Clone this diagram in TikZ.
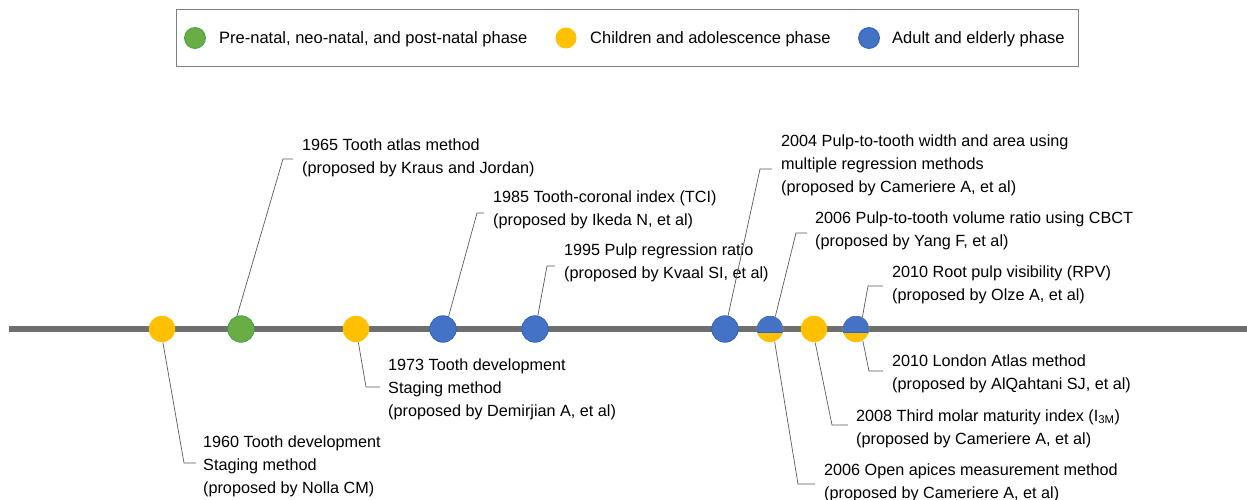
\documentclass[tikz,border=0pt]{standalone}
\usepackage{fontspec}
\setmainfont{Liberation Sans}
\definecolor{gr}{HTML}{6AAD45}
\definecolor{grd}{HTML}{3FA34D}
\definecolor{ye}{HTML}{FFC000}
\definecolor{bl}{HTML}{4472C4}
\definecolor{bld}{HTML}{2E62C0}
\definecolor{tl}{HTML}{6E6E6E}
\definecolor{cn}{HTML}{595959}
\definecolor{legb}{HTML}{7F7F7F}
\begin{document}
\begin{tikzpicture}[x=1pt,y=-1pt,
  tdot/.style={circle, minimum size=26.5pt, inner sep=0pt, line width=0.8pt},
  gdot/.style={tdot, fill=gr, draw=grd},
  ydot/.style={tdot, fill=ye},
  bdot/.style={tdot, fill=bl, draw=bld},
  hdot/.style={tdot, fill=ye, path picture={
      \fill[bl] ([yshift=-3.7pt]path picture bounding box.west) rectangle (path picture bounding box.north east);
      \draw[bld, line width=0.9pt] ([yshift=-3.7pt]path picture bounding box.west) -- ([yshift=-3.7pt]path picture bounding box.east);}},
  ldot/.style={circle, minimum size=21pt, inner sep=0pt, line width=0.8pt},
  lbl/.style={font=\fontsize{16.5}{23}\selectfont, align=left, inner sep=0pt, anchor=west, text=black},
  tlbl/.style={lbl, font=\fontsize{16.2}{23}\selectfont},
  conn/.style={draw=cn, line width=0.7pt}]
\useasboundingbox (0,0) rectangle (1247,500);

% legend
\node[draw=legb, line width=1pt, minimum width=902pt, minimum height=56.5pt, anchor=north west, inner sep=0pt] (legend) at (176,9.5) {};
\node[ldot, fill=gr, draw=grd] (lg) at (195,38) {};
\node[lbl] (lgt) at (219,39) {Pre-natal, neo-natal, and post-natal phase};
\node[ldot, fill=ye] (ly) at (566,38) {};
\node[lbl] (lyt) at (590,39) {Children and adolescence phase};
\node[ldot, fill=bl, draw=bld] (lb) at (869,38) {};
\node[lbl] (lbt) at (892,39) {Adult and elderly phase};

% timeline
\coordinate (tlstart) at (9,329);
\coordinate (tlend) at (1247,329);
\draw[tl, line width=6pt] (tlstart) -- (tlend);

% circles
\node[ydot] (c1) at (162,329) {};
\node[gdot] (c2) at (241,329) {};
\node[ydot] (c3) at (356,329) {};
\node[bdot] (c4) at (443,329) {};
\node[bdot] (c5) at (535,329) {};
\node[bdot] (c6) at (725,329) {};
\node[hdot] (c7) at (770,329) {};
\node[ydot] (c8) at (814,329) {};
\node[hdot] (c9) at (856,329) {};

% labels
\node[tlbl] (t1) at (203,466.5) {1960 Tooth development\\Staging method\\(proposed by Nolla CM)};
\node[tlbl] (t2) at (302,158) {1965 Tooth atlas method\\(proposed by Kraus and Jordan)};
\node[tlbl] (t3) at (388,389.5) {1973 Tooth development\\Staging method\\(proposed by Demirjian A, et al)};
\node[tlbl] (t4) at (493,210) {1985 Tooth-coronal index (TCI)\\(proposed by Ikeda N, et al)};
\node[tlbl] (t5) at (564,263) {1995 Pulp regression ratio\\(proposed by Kvaal SI, et al)};
\node[tlbl] (t6) at (781,165.5) {2004 Pulp-to-tooth width and area using\\multiple regression methods\\(proposed by Cameriere A, et al)};
\node[tlbl] (t7) at (815,231) {2006 Pulp-to-tooth volume ratio using CBCT\\(proposed by Yang F, et al)};
\node[tlbl] (t8) at (892,285) {2010 Root pulp visibility (RPV)\\(proposed by Olze A, et al)};
\node[tlbl] (t9) at (892,374) {2010 London Atlas method\\(proposed by AlQahtani SJ, et al)};
\node[tlbl] (t10) at (856,428.5) {2008 Third molar maturity index (I\textsubscript{3M})\\(proposed by Cameriere A, et al)};
\node[tlbl] (t11) at (824,483) {2006 Open apices measurement method\\(proposed by Cameriere A, et al)};

% connector knees and ends
\coordinate (k1) at (184,463);  \coordinate (e1) at (196,463);
\coordinate (k2) at (283,159);  \coordinate (e2) at (293,159);
\coordinate (k3) at (366,387);  \coordinate (e3) at (380,387);
\coordinate (k4) at (477,213);  \coordinate (e4) at (484,213);
\coordinate (k5) at (547,266);  \coordinate (e5) at (555,266);
\coordinate (k6) at (760,169);  \coordinate (e6) at (772,169);
\coordinate (k7) at (796,233);  \coordinate (e7) at (807,233);
\coordinate (k8) at (868,286);  \coordinate (e8) at (883,286);
\coordinate (k9) at (869,371);  \coordinate (e9) at (883,371);
\coordinate (k10) at (832,425); \coordinate (e10) at (848,425);
\coordinate (k11) at (798,484); \coordinate (e11) at (815,484);

\draw[conn] (c1.274) -- (k1) -- (e1);
\draw[conn] (c2.107) -- (k2) -- (e2);
\draw[conn] (c3.280) -- (k3) -- (e3);
\draw[conn] (c4.66) -- (k4) -- (e4);
\draw[conn] (c5.78) -- (k5) -- (e5);
\draw[conn] (c6.77) -- (k6) -- (e6);
\draw[conn] (c7.67) -- (k7) -- (e7);
\draw[conn] (c9.62) -- (k8) -- (e8);
\draw[conn] (c9.300) -- (k9) -- (e9);
\draw[conn] (c8.275) -- (k10) -- (e10);
\draw[conn] (c7.290) -- (k11) -- (e11);
\end{tikzpicture}
\end{document}
